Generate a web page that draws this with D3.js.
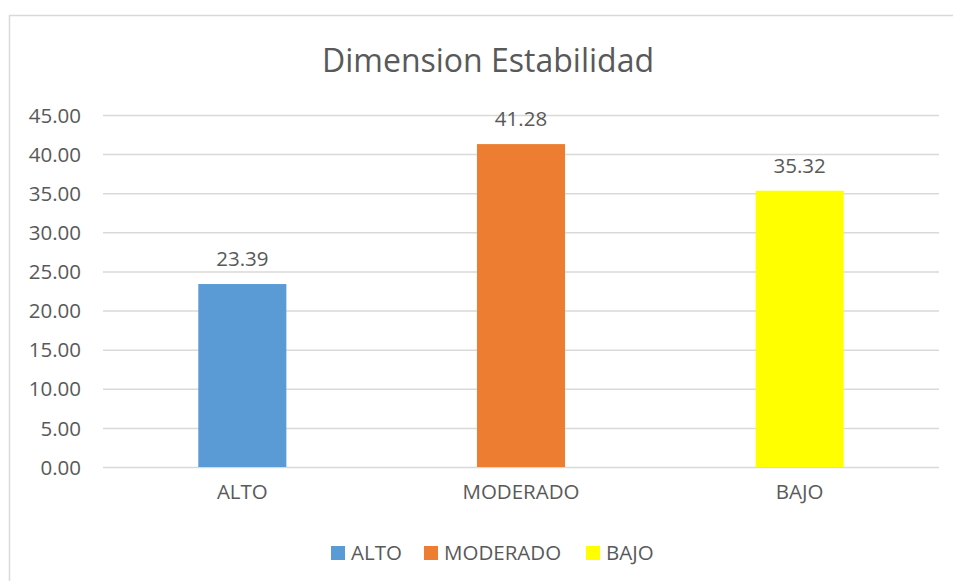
<!DOCTYPE html>
<html>
<head>
<meta charset="utf-8">
<script src="https://cdn.jsdelivr.net/npm/d3@7"></script>
<style>
  body { margin: 0; background: #fff; }
  svg text { font-family: "Open Sans", sans-serif; fill: #595959; }
</style>
</head>
<body>
<div class="bar_chart"></div>
<script>
var categories = ["ALTO", "MODERADO", "BAJO"];
var values = [23.39, 41.28, 35.32];
var colors = ["#5B9BD5", "#ED7D31", "#FFFF00"];
var yTicks = [0, 5, 10, 15, 20, 25, 30, 35, 40, 45];
var title = "Dimension Estabilidad";

var width = 953,
    height = 581,
    plot = {left: 103, right: 939, top: 115, bottom: 467};

var svg = d3.select(".bar_chart")
    .append("svg")
    .attr("width", width)
    .attr("height", height);

// outer chart border (runs off the right/bottom edge)
svg.append("rect")
    .attr("x", 9.5)
    .attr("y", 15.5)
    .attr("width", 960)
    .attr("height", 600)
    .attr("fill", "#fff")
    .attr("stroke", "#D9D9D9")
    .attr("stroke-width", 1.5);

var x = d3.scaleBand()
    .domain(categories)
    .range([plot.left, plot.right])
    .paddingInner(0.684)
    .paddingOuter(0.342);

var y = d3.scaleLinear()
    .domain([0, 45])
    .range([plot.bottom, plot.top]);

// gridlines + y labels
var yAxis = svg.append("g")
    .attr("transform", "translate(" + plot.left + ",0)")
    .call(d3.axisLeft(y)
        .tickValues(yTicks)
        .tickSize(-(plot.right - plot.left))
        .tickPadding(22)
        .tickFormat(d3.format(".2f")));
yAxis.select(".domain").remove();
yAxis.selectAll(".tick line")
    .attr("stroke", "#D9D9D9")
    .attr("stroke-width", 1.5);
yAxis.selectAll(".tick text")
    .attr("font-size", 20.5)
    .attr("dy", "0.35em");

// bars
svg.append("g")
    .selectAll("rect")
    .data(values)
    .enter().append("rect")
    .attr("x", function(d, i) { return x(categories[i]); })
    .attr("y", function(d) { return y(d); })
    .attr("width", x.bandwidth())
    .attr("height", function(d) { return y(0) - y(d); })
    .attr("fill", function(d, i) { return colors[i]; });

// value labels
svg.append("g")
    .selectAll("text")
    .data(values)
    .enter().append("text")
    .attr("x", function(d, i) { return x(categories[i]) + x.bandwidth() / 2; })
    .attr("y", function(d) { return y(d) - 18; })
    .attr("text-anchor", "middle")
    .attr("font-size", 20.5)
    .text(function(d) { return d3.format(".2f")(d); });

// x labels
var xAxis = svg.append("g")
    .attr("transform", "translate(0," + plot.bottom + ")")
    .call(d3.axisBottom(x).tickSize(0).tickPadding(17));
xAxis.select(".domain").remove();
xAxis.selectAll(".tick text")
    .attr("font-size", 20.5)
    .attr("dy", "0.71em");

// title
svg.append("text")
    .attr("x", 488)
    .attr("y", 72)
    .attr("text-anchor", "middle")
    .attr("font-size", 32)
    .text(title);

// legend
var legendX = [331, 424, 586];
var legend = svg.append("g")
    .selectAll("g")
    .data(categories)
    .enter().append("g")
    .attr("transform", function(d, i) { return "translate(" + legendX[i] + ",546)"; });

legend.append("rect")
    .attr("width", 14)
    .attr("height", 14)
    .attr("fill", function(d, i) { return colors[i]; });

legend.append("text")
    .attr("x", 20)
    .attr("y", 7)
    .attr("dy", "0.35em")
    .attr("font-size", 20.5)
    .text(function(d) { return d; });
</script>
</body>
</html>
